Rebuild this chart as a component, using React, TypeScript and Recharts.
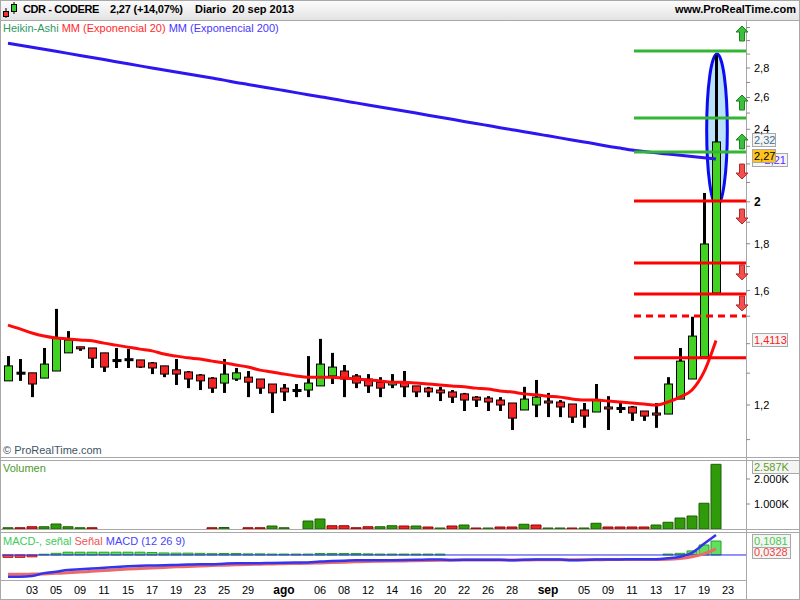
import { ComposedChart, Bar, Line, XAxis, YAxis, ReferenceLine, ReferenceDot, ReferenceArea, Cell } from 'recharts'

const FONT = '"Liberation Sans", Arial, sans-serif'

// trading days (dd-mm), last two are empty future slots
const dates = [
  '01-07', '02-07', '03-07', '04-07', '05-07', '08-07', '09-07', '10-07', '11-07', '12-07',
  '15-07', '16-07', '17-07', '18-07', '19-07', '22-07', '23-07', '24-07', '25-07', '26-07',
  '29-07', '30-07', '31-07', '01-08', '02-08', '05-08', '06-08', '07-08', '08-08', '09-08',
  '12-08', '13-08', '14-08', '15-08', '16-08', '19-08', '20-08', '21-08', '22-08', '23-08',
  '26-08', '27-08', '28-08', '29-08', '30-08', '02-09', '03-09', '04-09', '05-09', '06-09',
  '09-09', '10-09', '11-09', '12-09', '13-09', '16-09', '17-09', '18-09', '19-09', '20-09',
  '23-09', '24-09',
]

const xTicks = [
  '03-07', '05-07', '09-07', '11-07', '15-07', '17-07', '19-07', '23-07', '25-07', '29-07',
  '01-08', '06-08', '08-08', '12-08', '14-08', '16-08', '20-08', '22-08', '26-08', '28-08',
  '02-09', '05-09', '09-09', '11-09', '13-09', '17-09', '19-09', '23-09',
]
const monthStarts: Record<string, string> = { '01-08': 'ago', '02-09': 'sep' }

// Heikin-Ashi candles
const haOpen = [
  1.275, 1.303, 1.301, 1.284, 1.307, 1.368, 1.389, 1.385, 1.368, 1.345,
  1.348, 1.344, 1.334, 1.324, 1.311, 1.304, 1.294, 1.284, 1.268, 1.281,
  1.287, 1.281, 1.265, 1.252, 1.247, 1.246, 1.259, 1.291, 1.307, 1.291,
  1.281, 1.271, 1.262, 1.271, 1.259, 1.252, 1.246, 1.240, 1.234, 1.224,
  1.221, 1.215, 1.206, 1.185, 1.200, 1.212, 1.209, 1.203, 1.185, 1.179,
  1.194, 1.192, 1.194, 1.182, 1.176, 1.173, 1.218, 1.281, 1.354, 1.590,
]
const haClose = [
  1.324, 1.300, 1.265, 1.330, 1.420, 1.413, 1.382, 1.350, 1.320, 1.342,
  1.345, 1.320, 1.317, 1.297, 1.297, 1.281, 1.275, 1.252, 1.297, 1.301,
  1.271, 1.252, 1.237, 1.240, 1.245, 1.268, 1.330, 1.320, 1.281, 1.268,
  1.259, 1.252, 1.271, 1.256, 1.240, 1.240, 1.237, 1.224, 1.215, 1.215,
  1.209, 1.200, 1.161, 1.218, 1.224, 1.206, 1.194, 1.164, 1.167, 1.215,
  1.188, 1.190, 1.176, 1.167, 1.170, 1.265, 1.340, 1.427, 1.799, 2.325,
]
const haHigh = [
  1.357, 1.347, 1.301, 1.385, 1.528, 1.445, 1.389, 1.385, 1.368, 1.385,
  1.382, 1.344, 1.337, 1.324, 1.347, 1.307, 1.297, 1.287, 1.347, 1.317,
  1.307, 1.281, 1.265, 1.265, 1.265, 1.357, 1.417, 1.368, 1.327, 1.297,
  1.297, 1.287, 1.297, 1.307, 1.259, 1.256, 1.256, 1.246, 1.237, 1.227,
  1.227, 1.224, 1.206, 1.256, 1.278, 1.237, 1.215, 1.203, 1.206, 1.265,
  1.227, 1.206, 1.197, 1.182, 1.206, 1.287, 1.385, 1.498, 2.045, 2.893,
]
const haLow = [
  1.275, 1.275, 1.224, 1.284, 1.307, 1.368, 1.375, 1.317, 1.304, 1.317,
  1.317, 1.317, 1.297, 1.287, 1.262, 1.252, 1.246, 1.237, 1.237, 1.275,
  1.224, 1.234, 1.176, 1.212, 1.224, 1.224, 1.259, 1.265, 1.224, 1.252,
  1.237, 1.224, 1.252, 1.224, 1.224, 1.224, 1.212, 1.206, 1.182, 1.194,
  1.182, 1.182, 1.127, 1.185, 1.164, 1.164, 1.164, 1.147, 1.133, 1.179,
  1.127, 1.176, 1.153, 1.153, 1.133, 1.173, 1.218, 1.281, 1.354, 1.590,
]

const ema20 = [
  1.467, 1.453, 1.438, 1.427, 1.420, 1.417, 1.413, 1.410, 1.402, 1.395,
  1.388, 1.381, 1.375, 1.364, 1.357, 1.351, 1.347, 1.340, 1.334, 1.327,
  1.320, 1.310, 1.304, 1.297, 1.291, 1.287, 1.287, 1.287, 1.284, 1.281,
  1.278, 1.275, 1.271, 1.271, 1.268, 1.265, 1.262, 1.259, 1.256, 1.252,
  1.249, 1.243, 1.240, 1.234, 1.231, 1.227, 1.224, 1.218, 1.215, 1.215,
  1.212, 1.209, 1.206, 1.203, 1.200, 1.209, 1.224, 1.246, 1.304, 1.4113,
]
const ema200 = [
  2.980, 2.965, 2.950, 2.935, 2.920, 2.905, 2.890, 2.875, 2.860, 2.845,
  2.830, 2.815, 2.800, 2.786, 2.772, 2.758, 2.744, 2.730, 2.716, 2.700,
  2.687, 2.673, 2.660, 2.646, 2.632, 2.618, 2.605, 2.592, 2.578, 2.565,
  2.552, 2.539, 2.526, 2.513, 2.500, 2.487, 2.474, 2.461, 2.448, 2.436,
  2.423, 2.410, 2.398, 2.386, 2.373, 2.361, 2.349, 2.337, 2.325, 2.313,
  2.300, 2.290, 2.278, 2.270, 2.262, 2.255, 2.248, 2.241, 2.234, 2.227,
]

// volume in K, 1 = up day
const volume = [
  50, 50, 90, 90, 200, 90, 50, 50, 0, 0,
  0, 0, 0, 0, 0, 0, 0, 50, 60, 0,
  50, 50, 120, 50, 0, 320, 400, 130, 130, 50,
  90, 90, 130, 120, 120, 80, 40, 120, 160, 40,
  40, 80, 80, 190, 160, 40, 40, 40, 40, 230,
  80, 80, 80, 80, 160, 270, 440, 520, 1030, 2587,
]
const volUp = [
  1, 0, 0, 1, 1, 1, 1, 0, 0, 0,
  0, 0, 0, 0, 0, 0, 0, 0, 1, 0,
  0, 0, 1, 1, 0, 1, 1, 0, 0, 0,
  0, 1, 1, 0, 1, 0, 1, 0, 1, 0,
  1, 0, 0, 1, 0, 1, 1, 0, 1, 1,
  0, 0, 0, 0, 1, 1, 1, 1, 1, 1,
]

// MACD (12 26 9)
const macd = [
  -0.117, -0.117, -0.113, -0.098, -0.090, -0.081, -0.077, -0.073, -0.069, -0.065,
  -0.061, -0.058, -0.057, -0.056, -0.054, -0.052, -0.050, -0.050, -0.047, -0.045,
  -0.045, -0.044, -0.043, -0.042, -0.041, -0.040, -0.035, -0.033, -0.031, -0.029,
  -0.029, -0.029, -0.028, -0.027, -0.026, -0.025, -0.024, -0.027, -0.026, -0.026,
  -0.026, -0.026, -0.029, -0.026, -0.025, -0.025, -0.025, -0.028, -0.027, -0.025,
  -0.024, -0.024, -0.023, -0.023, -0.023, -0.018, -0.010, 0.012, 0.060, 0.1081,
]
const signal = [
  -0.104, -0.104, -0.103, -0.102, -0.099, -0.096, -0.092, -0.088, -0.084, -0.080,
  -0.076, -0.073, -0.070, -0.067, -0.064, -0.062, -0.059, -0.057, -0.055, -0.053,
  -0.051, -0.050, -0.048, -0.047, -0.046, -0.045, -0.043, -0.041, -0.039, -0.037,
  -0.035, -0.034, -0.033, -0.032, -0.031, -0.030, -0.029, -0.028, -0.027, -0.027,
  -0.027, -0.027, -0.027, -0.027, -0.026, -0.026, -0.026, -0.026, -0.026, -0.026,
  -0.025, -0.025, -0.024, -0.024, -0.024, -0.023, -0.019, -0.010, 0.006, 0.0328,
]
const hist = [
  -0.013, -0.013, -0.010, 0.004, 0.009, 0.015, 0.015, 0.015, 0.015, 0.015,
  0.015, 0.015, 0.013, 0.011, 0.010, 0.010, 0.009, 0.007, 0.008, 0.008,
  0.006, 0.006, 0.005, 0.005, 0.005, 0.005, 0.008, 0.008, 0.008, 0.008,
  0.006, 0.005, 0.005, 0.005, 0.005, 0.005, 0.005, 0, 0, 0,
  0, 0, 0, 0, 0, 0, 0, 0, 0, 0,
  0, 0, 0, 0, 0, 0.005, 0.009, 0.022, 0.054, 0.0753,
]

// drawn support / resistance levels and signal arrows
const greenLevels = [2.922, 2.469, 2.267]
const redLevels = [2.004, 1.715, 1.586, 1.351]
const dashedLevel = 1.501
const upArrows = [3.05, 2.564, 2.325]
const downArrows = [2.161, 1.93, 1.677, 1.551]

const priceTicks = [1.1, 1.2, 1.3, 1.4, 1.5, 1.6, 1.7, 1.8, 1.9, 2, 2.1, 2.2, 2.3, 2.4, 2.5, 2.6, 2.7, 2.8, 2.9, 3, 3.1]
const priceLabels = [1.2, 1.6, 1.8, 2, 2.4, 2.6, 2.8]

const rows = dates.map((d, i) => ({
  d,
  range: i < haOpen.length ? [haLow[i], haHigh[i]] : null,
  open: haOpen[i],
  close: haClose[i],
  high: haHigh[i],
  low: haLow[i],
  ema20: ema20[i],
  ema200: ema200[i],
  vol: volume[i],
  up: volUp[i],
  macd: macd[i],
  signal: signal[i],
  hist: hist[i],
}))

function Candle(props: any) {
  const { x, y, width, height, payload } = props
  if (payload == null || payload.open == null || height == null) return null
  const { open, close, high, low } = payload
  const span = Math.log(high) - Math.log(low)
  const toY = (v: number) => y + ((Math.log(high) - Math.log(v)) / span) * height
  const cx = Math.round(x + width / 2)
  const top = toY(Math.max(open, close))
  const bot = toY(Math.min(open, close))
  const doji = bot - top < 1.5
  return (
    <g>
      <rect x={cx - 1} y={y} width={3} height={height} fill="#000" />
      {doji ? (
        <rect x={cx - 3.5} y={(top + bot) / 2 - 1} width={9} height={3} fill="#000" />
      ) : (
        <rect
          x={cx - 3.5}
          y={top}
          width={8}
          height={bot - top}
          fill={close >= open ? '#42d322' : '#f22424'}
          stroke="#000"
          strokeWidth={1}
        />
      )}
    </g>
  )
}

const Ellipse = (p: any) => (
  <ellipse
    cx={p.x + p.width / 2 + 1}
    cy={p.y + p.height / 2}
    rx={p.width * 0.86}
    ry={p.height / 2}
    fill="#b9e1fa"
    stroke="#0c0cf2"
    strokeWidth={3}
  />
)

const levelShape = (color: string, dash?: string) => (p: any) => (
  <line x1={p.x1 + 2} y1={p.y1} x2={p.x2 + 6} y2={p.y2} stroke={color} strokeWidth={3} strokeDasharray={dash} />
)

const UpArrow = (p: any) => {
  const cx = p.cx + 2
  const cy = p.cy
  const pts = [
    [cx, cy - 8], [cx + 6, cy - 2], [cx + 2.5, cy - 2], [cx + 2.5, cy + 7],
    [cx - 2.5, cy + 7], [cx - 2.5, cy - 2], [cx - 6, cy - 2],
  ]
  return <polygon points={pts.map((q) => q.join(',')).join(' ')} fill="#3cbf3c" stroke="#1f7f1f" strokeWidth={1} />
}

const DownArrow = (p: any) => {
  const cx = p.cx + 2
  const cy = p.cy
  const pts = [
    [cx, cy + 8], [cx + 6, cy + 2], [cx + 2.5, cy + 2], [cx + 2.5, cy - 7],
    [cx - 2.5, cy - 7], [cx - 2.5, cy + 2], [cx - 6, cy + 2],
  ]
  return <polygon points={pts.map((q) => q.join(',')).join(' ')} fill="#f05050" stroke="#b02828" strokeWidth={1} />
}

const valueBox = (text: string, color: string, bg: string, w: number, dy: number, alignEnd = false) => (p: any) => {
  const right = Math.max(p.x1, p.x2)
  const cy = Math.round(p.y1 + dy)
  return (
    <g>
      <rect x={right + 6.5} y={cy - 6.5} width={w} height={13} fill={bg} stroke="#a8a8a8" />
      <text
        x={alignEnd ? right + 6 + w - 1 : right + 8}
        y={cy + 4}
        fontSize={11}
        fill={color}
        fontFamily={FONT}
        textAnchor={alignEnd ? 'end' : 'start'}
      >
        {text}
      </text>
    </g>
  )
}

function PriceTick(props: any) {
  const { x, y, payload } = props
  const lab = priceLabels.find((p) => Math.abs(p - payload.value) < 1e-6)
  if (lab === undefined) return null
  const whole = Number.isInteger(lab)
  return (
    <text x={x + 2} y={y + 4} fontSize={whole ? 12 : 11} fontWeight={whole ? 'bold' : 'normal'} fill="#000" fontFamily={FONT}>
      {whole ? String(lab) : lab.toFixed(1).replace('.', ',')}
    </text>
  )
}

function VolTick(props: any) {
  const { x, y, payload } = props
  return (
    <text x={x + 2} y={y + 4} fontSize={11} fill="#000" fontFamily={FONT}>
      {(payload.value / 1000).toFixed(3) + 'K'}
    </text>
  )
}

function DateTick(props: any) {
  const { x, y, payload } = props
  const m = monthStarts[payload.value]
  return (
    <text x={x} y={y + 6} textAnchor="middle" fontSize={m ? 12 : 11} fontWeight={m ? 'bold' : 'normal'} fill="#000" fontFamily={FONT}>
      {m ?? payload.value.slice(0, 2)}
    </text>
  )
}

const hLine = (top: number, left = 0, width = 800) => (
  <div style={{ position: 'absolute', left, top, width, height: 1, background: '#a8a8a8' }} />
)

export default function App() {
  const last = dates[61]
  return (
    <div style={{ position: 'absolute', left: 0, top: 0, width: 800, height: 600, background: '#fff', fontFamily: FONT, overflow: 'hidden' }}>
      {/* title bar */}
      <div style={{ position: 'absolute', left: 0, top: 0, width: 800, height: 20, background: 'linear-gradient(#fdfdfd, #e3e3e3)' }} />
      <svg style={{ position: 'absolute', left: 2, top: 2 }} width={16} height={17}>
        <line x1={4} y1={6} x2={4} y2={16} stroke="#000" />
        <rect x={1.5} y={9.5} width={5} height={5} fill="#e33" stroke="#000" />
        <line x1={12} y1={0} x2={12} y2={12} stroke="#000" />
        <rect x={9.5} y={2.5} width={5} height={7} fill="#3c3" stroke="#000" />
      </svg>
      <div style={{ position: 'absolute', left: 23, top: 3, fontSize: 11, fontWeight: 'bold', letterSpacing: -0.4, whiteSpace: 'pre' }}>CDR - CODERE</div>
      <div style={{ position: 'absolute', left: 110, top: 3, fontSize: 11, fontWeight: 'bold', letterSpacing: -0.2, whiteSpace: 'pre' }}>2,27 (+14,07%)</div>
      <div style={{ position: 'absolute', left: 195, top: 3, fontSize: 11, fontWeight: 'bold', whiteSpace: 'pre' }}>Diario  20 sep 2013</div>
      <div style={{ position: 'absolute', right: 4, top: 3, fontSize: 11, fontWeight: 'bold', whiteSpace: 'pre' }}>www.ProRealTime.com</div>

      {/* frame lines */}
      {hLine(0)}
      {hLine(20)}
      {hLine(457)}
      {hLine(460)}
      {hLine(529)}
      {hLine(532)}
      {hLine(580, 0, 747)}
      {hLine(599)}
      <div style={{ position: 'absolute', left: 0, top: 0, width: 1, height: 600, background: '#a8a8a8' }} />
      <div style={{ position: 'absolute', left: 799, top: 0, width: 1, height: 600, background: '#a8a8a8' }} />
      <div style={{ position: 'absolute', left: 746, top: 20, width: 1, height: 580, background: '#a8a8a8' }} />

      {/* price panel */}
      <div style={{ position: 'absolute', left: 0, top: 21 }}>
        <ComposedChart width={800} height={436} data={rows} margin={{ top: 0, right: 0, bottom: 0, left: 2 }}>
          <XAxis dataKey="d" hide />
          <YAxis
            orientation="right"
            width={54}
            scale="log"
            domain={[1.0529, 3.1514]}
            allowDataOverflow
            ticks={priceTicks}
            interval={0}
            tick={PriceTick}
            tickSize={4}
            axisLine={false}
            tickLine={{ stroke: '#8a8a8a' }}
          />
          <ReferenceArea x1={dates[59]} x2={dates[59]} y1={1.98} y2={2.9} shape={Ellipse} />
          <Bar dataKey="range" barSize={8} shape={Candle} isAnimationActive={false} />
          <Line dataKey="ema200" type="monotone" stroke="#2d16f0" strokeWidth={3} dot={false} isAnimationActive={false} />
          <Line dataKey="ema20" type="monotone" stroke="#ff0a0a" strokeWidth={3} dot={false} isAnimationActive={false} />
          {greenLevels.map((v) => (
            <ReferenceLine key={'g' + v} segment={[{ x: dates[52], y: v }, { x: last, y: v }]} shape={levelShape('#35b535')} />
          ))}
          {redLevels.map((v) => (
            <ReferenceLine key={'r' + v} segment={[{ x: dates[52], y: v }, { x: last, y: v }]} shape={levelShape('#ff0000')} />
          ))}
          <ReferenceLine segment={[{ x: dates[52], y: dashedLevel }, { x: last, y: dashedLevel }]} shape={levelShape('#ff0000', '7 5')} />
          {upArrows.map((v) => (
            <ReferenceDot key={'u' + v} x={last} y={v} r={6} shape={UpArrow} />
          ))}
          {downArrows.map((v) => (
            <ReferenceDot key={'d' + v} x={last} y={v} r={6} shape={DownArrow} />
          ))}
          <ReferenceLine y={ema200[59]} shape={valueBox('2,21', '#5a2cff', '#f4f4f4', 35, 1, true)} />
          <ReferenceLine y={haClose[59]} shape={valueBox('2,32', '#3d6d8f', '#f4f4f4', 23, -2)} />
          <ReferenceLine y={2.27} shape={valueBox('2,27', '#000', '#ffc41c', 23, 5)} />
          <ReferenceLine y={ema20[59]} shape={valueBox('1,4113', '#ff2020', '#f4f4f4', 35, 0)} />
        </ComposedChart>
      </div>

      {/* legend */}
      <div style={{ position: 'absolute', left: 3, top: 22, fontSize: 11, whiteSpace: 'pre' }}>
        <span style={{ color: '#2f9a62' }}>Heikin-Ashi </span>
        <span style={{ color: '#ff2a2a' }}>MM (Exponencial 20) </span>
        <span style={{ color: '#4a36ff' }}>MM (Exponencial 200)</span>
      </div>
      <div style={{ position: 'absolute', left: 3, top: 444, fontSize: 11, color: '#435466' }}>© ProRealTime.com</div>

      {/* volume panel */}
      <div style={{ position: 'absolute', left: 0, top: 461 }}>
        <ComposedChart width={800} height={68} data={rows} margin={{ top: 0, right: 0, bottom: 0, left: 2 }}>
          <XAxis dataKey="d" hide />
          <YAxis
            orientation="right"
            width={54}
            domain={[0, 2720]}
            allowDataOverflow
            ticks={[1000, 2000]}
            interval={0}
            tick={VolTick}
            tickSize={4}
            axisLine={false}
            tickLine={{ stroke: '#8a8a8a' }}
          />
          <Bar dataKey="vol" barSize={10} isAnimationActive={false}>
            {rows.map((r, i) => (
              <Cell key={i} fill={r.up ? '#2f9a0a' : '#ee2222'} stroke={r.up ? '#1c6100' : '#9a0000'} />
            ))}
          </Bar>
          <ReferenceLine y={volume[59]} shape={valueBox('2.587K', '#5f9f1f', '#f4f4f4', 47, 3)} />
        </ComposedChart>
      </div>
      <div style={{ position: 'absolute', left: 3, top: 462, fontSize: 11, color: '#4c9a2a' }}>Volumen</div>

      {/* MACD panel */}
      <div style={{ position: 'absolute', left: 0, top: 532 }}>
        <ComposedChart width={800} height={68} data={rows} margin={{ top: 0, right: 0, bottom: 0, left: 2 }}>
          <XAxis dataKey="d" ticks={xTicks} interval={0} tick={DateTick} tickLine={false} axisLine={false} height={20} />
          <YAxis
            orientation="right"
            width={54}
            domain={[-0.135, 0.124]}
            allowDataOverflow
            ticks={[-0.05, 0]}
            interval={0}
            tick={false}
            tickSize={4}
            axisLine={false}
            tickLine={{ stroke: '#8a8a8a' }}
          />
          <Bar dataKey="hist" barSize={10} isAnimationActive={false}>
            {rows.map((r, i) => (
              <Cell key={i} fill={(r.hist ?? 0) >= 0 ? '#5fe05f' : '#f05050'} stroke={(r.hist ?? 0) >= 0 ? '#28a028' : '#b02020'} />
            ))}
          </Bar>
          <ReferenceLine y={0} stroke="#2626ee" strokeWidth={1} />
          <Line dataKey="signal" type="monotone" stroke="#ec6a6a" strokeWidth={3} dot={false} isAnimationActive={false} />
          <Line dataKey="macd" type="monotone" stroke="#3434ee" strokeWidth={2.5} dot={false} isAnimationActive={false} />
          <ReferenceLine y={signal[59]} shape={valueBox('0,0328', '#ee4444', '#f4f4f4', 38, 3)} />
          <ReferenceLine y={macd[59]} shape={valueBox('0,1081', '#44cc44', '#f4f4f4', 38, 6)} />
        </ComposedChart>
      </div>
      <div style={{ position: 'absolute', left: 3, top: 535, fontSize: 11, whiteSpace: 'pre' }}>
        <span style={{ color: '#3ccc5a' }}>MACD-, señal </span>
        <span style={{ color: '#ee5555' }}>Señal </span>
        <span style={{ color: '#4444ff' }}>MACD (12 26 9)</span>
      </div>
    </div>
  )
}
